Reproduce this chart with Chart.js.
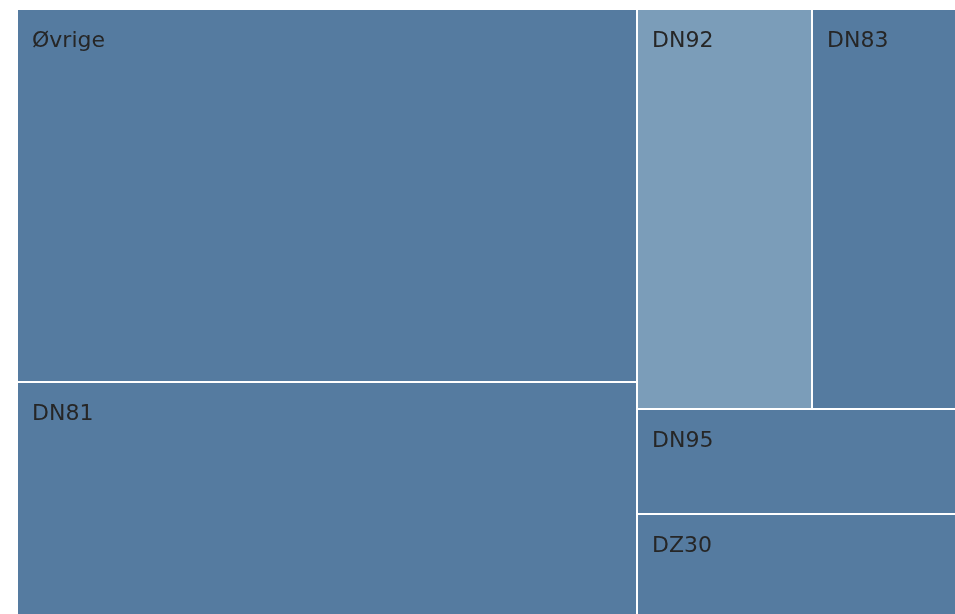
<!DOCTYPE html>
<html>
<head>
<meta charset="utf-8">
<script src="https://cdn.jsdelivr.net/npm/chart.js@4"></script>
<style>
  html, body { margin: 0; padding: 0; background: #fff; }
  #wrap { width: 955px; height: 614px; position: relative; }
</style>
</head>
<body>
<div id="wrap"><canvas id="chart"></canvas></div>
<script>
// data, sorted largest first (percent of total)
const labels = ['Øvrige', 'DN81', 'DN92', 'DN83', 'DN95', 'DZ30'];
const values = [40.7, 25.4, 12.3, 10.1, 5.9, 5.6];

const DARK = '#557ba0';
const LIGHT = '#7b9db9';
const tileColors = [DARK, DARK, LIGHT, DARK, DARK, DARK];

// d3-style squarified layout in unit space (x, y in 0..1)
function squarify (vals, x0, y0, x1, y1) {
  const ratio = (1 + Math.sqrt(5)) / 2;
  const out = [];
  let value = vals.reduce((a, b) => a + b, 0);
  let i0 = 0, i1 = 0;
  const n = vals.length;
  // aspect in pixel space matters, so caller passes pixel-ish box
  while (i0 < n) {
    const dx = x1 - x0, dy = y1 - y0;
    let sum = vals[i1++];
    let minV = sum, maxV = sum;
    const alpha = Math.max(dy / dx, dx / dy) / (value * ratio);
    let beta = sum * sum * alpha;
    let minRatio = Math.max(maxV / beta, beta / minV);
    for (; i1 < n; ++i1) {
      const v = vals[i1];
      sum += v;
      if (v < minV) minV = v;
      if (v > maxV) maxV = v;
      beta = sum * sum * alpha;
      const r = Math.max(maxV / beta, beta / minV);
      if (r > minRatio) { sum -= v; break; }
      minRatio = r;
    }
    const dice = dx < dy;
    if (dice) {
      const ny = y0 + dy * sum / value;
      let x = x0;
      for (let i = i0; i < i1; i++) {
        const w = dx * vals[i] / sum;
        out[i] = { x0: x, y0: y0, x1: x + w, y1: ny };
        x += w;
      }
      y0 = ny;
    } else {
      const nx = x0 + dx * sum / value;
      let y = y0;
      for (let i = i0; i < i1; i++) {
        const h = dy * vals[i] / sum;
        out[i] = { x0: x0, y0: y, x1: nx, y1: y + h };
        y += h;
      }
      x0 = nx;
    }
    value -= sum;
    i0 = i1;
  }
  return out;
}

const treemapPlugin = {
  id: 'treemap',
  afterDatasetsDraw (chart) {
    const ctx = chart.ctx;
    const xs = chart.scales.x, ys = chart.scales.y;
    const area = chart.chartArea;
    const W = area.right - area.left, H = area.bottom - area.top;
    // layout in a box with the area's proportions, then map through scales
    const rects = squarify(values, 0, 0, W, H);
    ctx.save();
    rects.forEach((r, i) => {
      let px0 = xs.getPixelForValue(r.x0 / W);
      let px1 = xs.getPixelForValue(r.x1 / W);
      let py0 = ys.getPixelForValue(r.y0 / H);
      let py1 = ys.getPixelForValue(r.y1 / H);
      px0 = Math.round(px0); px1 = Math.round(px1);
      py0 = Math.round(py0); py1 = Math.round(py1);
      if (px0 > area.left + 0.5) px0 += 1;
      if (px1 < area.right - 0.5) px1 -= 1;
      if (py0 > area.top + 0.5) py0 += 1;
      if (py1 < area.bottom - 0.5) py1 -= 1;
      ctx.fillStyle = tileColors[i];
      ctx.fillRect(px0, py0, px1 - px0, py1 - py0);
      ctx.fillStyle = '#262626';
      ctx.font = '22px "DejaVu Sans"';
      ctx.textBaseline = 'alphabetic';
      ctx.textAlign = 'left';
      ctx.fillText(labels[i], px0 + 14, py0 + 37);
    });
    ctx.restore();
  }
};

new Chart(document.getElementById('chart'), {
  type: 'scatter',
  data: {
    labels: labels,
    datasets: [{ label: 'treemap', data: values.map(() => null), pointRadius: 0 }]
  },
  options: {
    responsive: true,
    maintainAspectRatio: false,
    animation: false,
    layout: { padding: { left: 18, top: 10, right: 0, bottom: 0 } },
    plugins: { legend: { display: false }, tooltip: { enabled: false } },
    scales: {
      x: { type: 'linear', min: 0, max: 1, display: false },
      y: { type: 'linear', min: 0, max: 1, reverse: true, display: false }
    }
  },
  plugins: [treemapPlugin]
});
</script>
</body>
</html>
